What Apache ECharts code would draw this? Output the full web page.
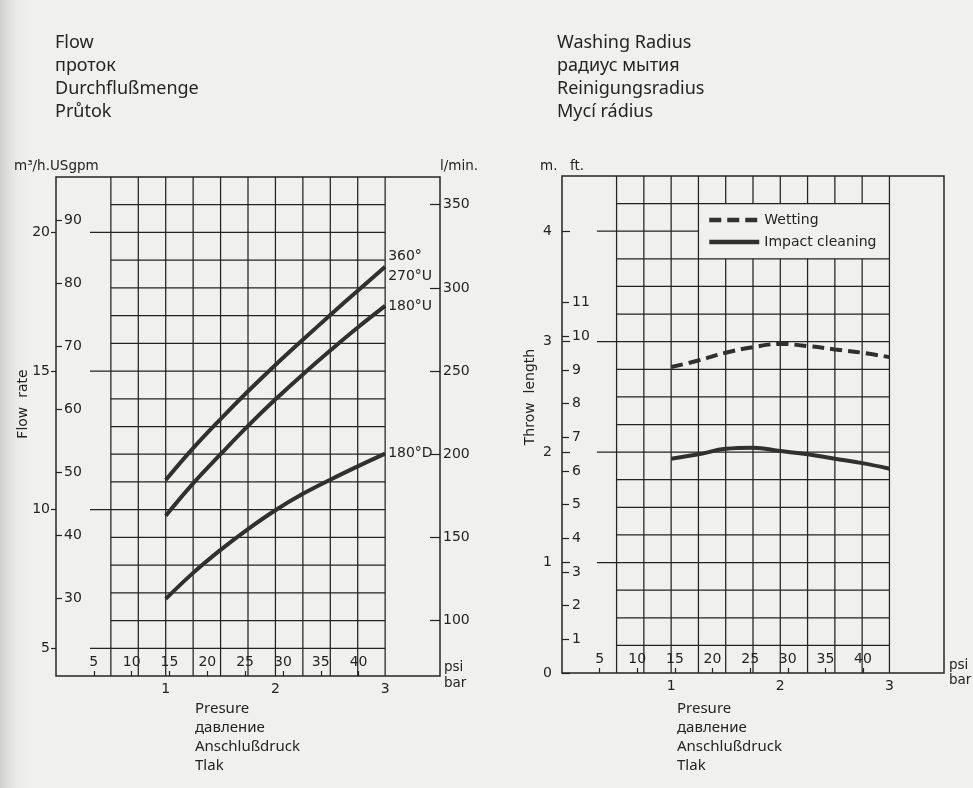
<!DOCTYPE html>
<html><head><meta charset="utf-8">
<script src="https://cdn.jsdelivr.net/npm/echarts@6/dist/echarts.min.js"></script>
<style>html,body{margin:0;padding:0;background:#f0f0ee}#c{width:973px;height:788px}</style>
</head><body><div id="c"></div>
<script>
// ---------- data ----------
const pressureBar = [1.0, 1.25, 1.5, 1.75, 2.0, 2.25, 2.5, 2.75, 3.0];
const flow360 = [11.07, 12.22, 13.27, 14.27, 15.22, 16.13, 17.02, 17.9, 18.76];
const flow180U = [9.78, 10.95, 12.0, 13.02, 13.98, 14.88, 15.74, 16.57, 17.35];
const flow180D = [6.78, 7.72, 8.55, 9.3, 9.98, 10.57, 11.08, 11.56, 12.02];
const wetting = [2.77, 2.83, 2.90, 2.95, 2.98, 2.96, 2.93, 2.90, 2.86];
const impact = [1.94, 1.98, 2.03, 2.04, 2.01, 1.98, 1.94, 1.90, 1.85];

const barTicks = [1, 2, 3];
const psiTicks = [5, 10, 15, 20, 25, 30, 35, 40];
const m3hTicks = [5, 10, 15, 20];
const usgpmTicks = [30, 40, 50, 60, 70, 80, 90];
const lminTicks = [100, 150, 200, 250, 300, 350];
const meterTicks = [0, 1, 2, 3, 4];
const feetTicks = [1, 2, 3, 4, 5, 6, 7, 8, 9, 10, 11];

const curveNames = ['360°\n270°U', '180°U', '180°D'];
const legendNames = ['Wetting', 'Impact cleaning'];

const titleLeft = ['Flow', 'проток', 'Durchflußmenge', 'Průtok'];
const titleRight = ['Washing Radius', 'радиус мытия', 'Reinigungsradius', 'Mycí rádius'];
const pressureTitle = ['Presure', 'давление', 'Anschlußdruck', 'Tlak'];

// unit conversions
const PSI_PER_BAR = 14.5038;
const USGPM_PER_M3H = 4.40287;
const LMIN_PER_M3H = 16.6667;
const FT_PER_M = 1 / 0.3048;

// ---------- styles ----------
const INK = '#232323';
const TXT = '#242424';
const TICKFONT = 'DejaVu Sans';
const TITLEFONT = 'Noto Sans';

// ---------- grid lines ----------
function steps(a, b, s) { const r = []; for (let v = a; v <= b + 1e-9; v += s) r.push(+v.toFixed(4)); return r; }

const leftLines = [];
steps(0.5, 3.0, 0.25).forEach(x => leftLines.push([x, 4, x, 22]));
steps(5, 21, 1).forEach(y => leftLines.push([m3hTicks.includes(y) ? 0.31 : 0.5, y, 3.0, y]));

const rightLines = [];
steps(0.5, 3.0, 0.25).forEach(x => {
  if (x > 1.25 + 1e-9 && x < 3.0 - 1e-9) { rightLines.push([x, 0, x, 3.75]); rightLines.push([x, 4.25, x, 4.5]); }
  else rightLines.push([x, 0, x, 4.5]);
});
steps(0.25, 4.25, 0.25).forEach(y => {
  const major = Math.abs(y - Math.round(y)) < 1e-9;
  rightLines.push([major ? 0.32 : 0.5, y, Math.abs(y - 4) < 1e-9 ? 1.25 : 3.0, y]);
});

function lineRender(params, api) {
  const p1 = api.coord([api.value(0), api.value(1)]);
  const p2 = api.coord([api.value(2), api.value(3)]);
  return { type: 'line', shape: { x1: p1[0], y1: p1[1], x2: p2[0], y2: p2[1] },
           style: { stroke: INK, lineWidth: 1.25 } };
}

const pairs = (ys) => pressureBar.map((x, i) => [x, ys[i]]);

// ---------- axes ----------
const lbl = (extra) => Object.assign({ color: TXT, fontFamily: TICKFONT, fontSize: 14 }, extra);
function barAxis(g) {
  return { type: 'value', gridIndex: g, position: 'bottom', min: 0, max: 3.5,
    axisLine: { show: false }, axisTick: { show: false }, splitLine: { show: false },
    axisLabel: lbl({ customValues: barTicks, margin: 6 }) };
}
function psiAxis(g) {
  return { type: 'value', gridIndex: g, position: 'bottom', min: 0, max: 3.5 * PSI_PER_BAR,
    axisLine: { show: false }, splitLine: { show: false },
    axisTick: { show: true, inside: true, length: 5, customValues: psiTicks, lineStyle: { color: INK, width: 1.2 } },
    axisLabel: lbl({ inside: true, customValues: psiTicks, margin: 7 }) };
}
function yAx(g, pos, min, max, ticks, tickInside, tickLen, labInside, margin) {
  return { type: 'value', gridIndex: g, position: pos, min: min, max: max,
    axisLine: { show: false }, splitLine: { show: false },
    axisTick: { show: true, inside: tickInside, length: tickLen, customValues: ticks, lineStyle: { color: INK, width: 1.2 } },
    axisLabel: lbl({ inside: labInside, customValues: ticks, margin: margin }) };
}

// ---------- graphic texts ----------
const graphics = [];
graphics.push({ type: 'rect', shape: { x: 0, y: 0, width: 30, height: 788 }, silent: true, z: -10,
  style: { fill: new echarts.graphic.LinearGradient(0, 0, 1, 0, [{ offset: 0, color: '#cfcfcd' }, { offset: 1, color: 'rgba(240,240,238,0)' }]) } });
function addLines(arr, x, ys, size) {
  arr.forEach((t, i) => graphics.push({ type: 'text', x: x, y: ys[i],
    style: { text: t, fill: TXT, fontFamily: TITLEFONT, fontSize: size, verticalAlign: 'middle', align: 'left' } }));
}
addLines(titleLeft, 55, [42.5, 65.5, 88.5, 111.5], 18);
addLines(titleRight, 557, [42.5, 65.5, 88.5, 111.5], 18);
addLines(pressureTitle, 195, [708.5, 727.5, 746.5, 766], 15);
addLines(pressureTitle, 677, [708.5, 727.5, 746.5, 766], 15);
function t(text, x, y, opts) {
  graphics.push(Object.assign({ type: 'text', x: x, y: y,
    style: Object.assign({ text: text, fill: TXT, fontFamily: TICKFONT, fontSize: 13.5, verticalAlign: 'middle', align: 'left' }, opts || {}) }));
}
t('m³/h.USgpm', 14, 166);
t('l/min.', 440, 166);
t('m.', 540, 166);
t('ft.', 570, 166);
t('psi', 444, 667);
t('bar', 444, 683);
t('psi', 949, 665);
t('bar', 949, 680);
graphics.push({ type: 'text', x: 23, y: 404, rotation: Math.PI / 2,
  style: { text: 'Flow  rate', fill: TXT, fontFamily: TICKFONT, fontSize: 14, align: 'center', verticalAlign: 'middle' } });
graphics.push({ type: 'text', x: 530, y: 397, rotation: Math.PI / 2,
  style: { text: 'Throw  length', fill: TXT, fontFamily: TICKFONT, fontSize: 14, align: 'center', verticalAlign: 'middle' } });

// ---------- series ----------
const curveStyle = { color: '#303030', width: 4 };
function flowSeries(name, ys) {
  return { type: 'line', name: name, xAxisIndex: 0, yAxisIndex: 0, data: pairs(ys), smooth: 0.4,
    symbol: 'none', lineStyle: curveStyle, z: 5,
    endLabel: { show: true, formatter: name, color: TXT, fontFamily: TICKFONT, fontSize: 14, distance: 3, lineHeight: 20 } };
}

const chart = echarts.init(document.getElementById('c'));
chart.setOption({
  animation: false,
  backgroundColor: '#f0f0ee',
  grid: [
    { left: 56, top: 177, width: 384, height: 499, show: true, borderColor: INK, borderWidth: 1.5, backgroundColor: 'transparent' },
    { left: 562, top: 176, width: 382, height: 497, show: true, borderColor: INK, borderWidth: 1.5, backgroundColor: 'transparent' }
  ],
  xAxis: [barAxis(0), psiAxis(0), barAxis(1), psiAxis(1)],
  yAxis: [
    yAx(0, 'left', 4, 22, m3hTicks, false, 5, false, 6),
    yAx(0, 'left', 4 * USGPM_PER_M3H, 22 * USGPM_PER_M3H, usgpmTicks, true, 6, true, 8),
    yAx(0, 'right', 4 * LMIN_PER_M3H, 22 * LMIN_PER_M3H, lminTicks, true, 10, false, 3),
    yAx(1, 'left', 0, 4.5, meterTicks, true, 8, false, 10),
    yAx(1, 'left', 0, 4.5 * FT_PER_M, feetTicks, true, 7, true, 10)
  ],
  legend: {
    data: legendNames, left: 702, top: 208, orient: 'vertical', itemWidth: 50, itemHeight: 14, itemGap: 8,
    itemStyle: { opacity: 0 },
    lineStyle: { width: 4.5, color: '#303030' },
    textStyle: { color: TXT, fontFamily: TICKFONT, fontSize: 14 }
  },
  graphic: graphics,
  series: [
    { type: 'custom', xAxisIndex: 0, yAxisIndex: 0, data: leftLines, encode: { x: [0, 2], y: [1, 3] },
      renderItem: lineRender, silent: true, z: 1, clip: false },
    flowSeries(curveNames[0], flow360),
    flowSeries(curveNames[1], flow180U),
    flowSeries(curveNames[2], flow180D),
    { type: 'custom', xAxisIndex: 2, yAxisIndex: 3, data: rightLines, encode: { x: [0, 2], y: [1, 3] },
      renderItem: lineRender, silent: true, z: 1, clip: false },
    { type: 'line', name: legendNames[0], xAxisIndex: 2, yAxisIndex: 3, data: pairs(wetting), smooth: 0.4,
      symbol: 'none', lineStyle: { color: '#303030', width: 4, type: [12, 6] }, itemStyle: { color: '#303030' }, z: 5 },
    { type: 'line', name: legendNames[1], xAxisIndex: 2, yAxisIndex: 3, data: pairs(impact), smooth: 0.4,
      symbol: 'none', lineStyle: { color: '#303030', width: 4 }, itemStyle: { color: '#303030' }, z: 5 }
  ]
});
</script></body></html>
